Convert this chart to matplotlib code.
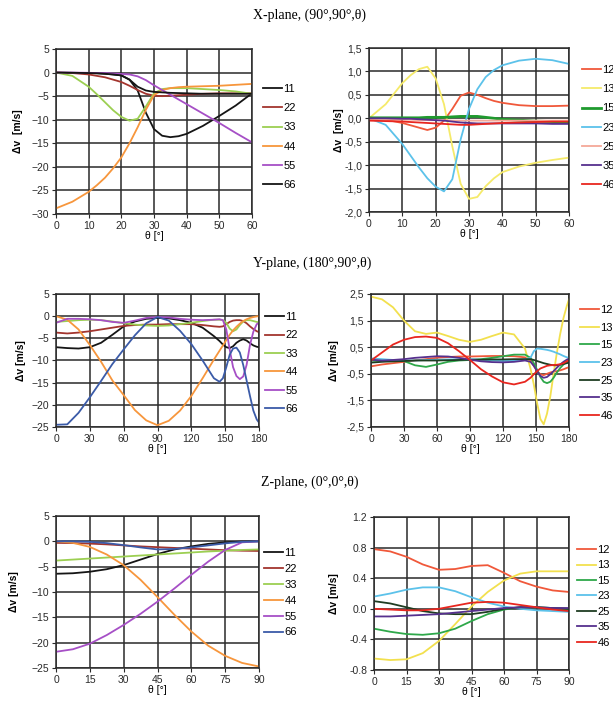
import numpy as np
import matplotlib
matplotlib.use('Agg')
import matplotlib.pyplot as plt

plt.rcParams['font.family'] = ['Liberation Sans', 'DejaVu Sans']

# ---------------- X-plane (90°,90°,θ) ----------------
th_x = [0, 5, 10, 12.5, 15, 17.5, 20, 22.5, 25, 27.5, 30, 32.5, 35, 37.5, 40, 45, 50, 55, 60]
x_11 = [0, -0.05, -0.1, -0.15, -0.25, -0.4, -0.6, -1.5, -3.8, -8.5, -12.0, -13.4, -13.7, -13.5, -13.0, -11.3, -9.2, -7.0, -4.4]
x_22 = [0, -0.1, -0.4, -0.7, -1.0, -1.5, -2.0, -2.8, -3.7, -4.5, -4.9, -5.0, -4.9, -4.8, -4.7, -4.5, -4.4, -4.4, -4.4]
x_33 = [0, -0.7, -3.0, -4.6, -6.3, -8.0, -9.4, -10.2, -9.8, -7.2, -4.4, -3.5, -3.3, -3.3, -3.3, -3.5, -3.7, -4.0, -4.5]
x_44 = [-28.8, -27.4, -25.3, -23.9, -22.3, -20.3, -18.0, -15.0, -11.6, -7.9, -4.8, -3.7, -3.3, -3.1, -3.0, -2.9, -2.8, -2.6, -2.4]
x_55 = [0, 0, -0.05, -0.1, -0.1, -0.2, -0.3, -0.4, -0.8, -1.6, -2.7, -3.7, -4.7, -5.7, -6.7, -8.7, -10.7, -12.8, -14.8]
x_66 = [0, -0.05, -0.1, -0.15, -0.25, -0.4, -0.6, -1.5, -3.0, -3.8, -4.1, -4.2, -4.3, -4.35, -4.4, -4.5, -4.5, -4.5, -4.5]

x_12 = [0, -0.03, -0.1, -0.15, -0.2, -0.25, -0.2, -0.05, 0.2, 0.48, 0.55, 0.5, 0.43, 0.37, 0.33, 0.28, 0.26, 0.26, 0.27]
x_13 = [0, 0.3, 0.75, 0.92, 1.05, 1.1, 0.85, 0.3, -0.6, -1.4, -1.72, -1.68, -1.45, -1.28, -1.15, -1.03, -0.95, -0.89, -0.84]
x_15 = [0.01, 0.01, 0.01, 0.01, 0.01, 0.02, 0.02, 0.02, 0.03, 0.04, 0.04, 0.04, 0.02, 0.0, -0.02, -0.04, -0.06, -0.07, -0.08]
x_23 = [0, -0.14, -0.55, -0.8, -1.05, -1.28, -1.46, -1.56, -1.3, -0.45, 0.2, 0.62, 0.88, 1.03, 1.13, 1.23, 1.27, 1.24, 1.16]
x_25 = [-0.03, -0.03, -0.03, -0.03, -0.04, -0.04, -0.04, -0.04, -0.05, -0.05, -0.05, -0.05, -0.05, -0.05, -0.05, -0.05, -0.05, -0.05, -0.05]
x_35 = [0, 0, -0.01, -0.01, -0.02, -0.03, -0.04, -0.05, -0.07, -0.09, -0.1, -0.11, -0.11, -0.11, -0.11, -0.11, -0.11, -0.12, -0.12]
x_46 = [-0.05, -0.06, -0.07, -0.08, -0.09, -0.1, -0.11, -0.12, -0.13, -0.14, -0.14, -0.13, -0.12, -0.11, -0.1, -0.09, -0.08, -0.07, -0.07]

# ---------------- Y-plane (180°,90°,θ) ----------------
th_y = [0, 10, 20, 30, 40, 50, 60, 70, 80, 90, 100, 110, 120, 130, 140, 145, 148, 151, 154, 157, 160, 163, 166, 169, 172, 175, 178, 180]
y_11 = [-7.0, -7.2, -7.3, -7.0, -6.0, -4.2, -2.3, -1.2, -0.6, -0.4, -0.5, -0.9, -1.5, -2.6, -4.5, -5.6, -6.4, -7.0, -7.2, -6.8, -6.0, -5.5, -5.2, -5.5, -6.1, -6.6, -6.9, -7.0]
y_22 = [-3.7, -3.9, -3.7, -3.4, -3.0, -2.6, -2.2, -2.0, -1.9, -1.9, -1.8, -1.8, -1.8, -2.0, -2.3, -2.4, -2.3, -1.8, -1.3, -1.0, -0.9, -0.9, -1.1, -1.6, -2.3, -2.9, -3.4, -3.6]
y_33 = [-1.3, -1.1, -0.9, -0.8, -0.9, -1.2, -1.6, -1.9, -2.1, -2.2, -2.1, -1.8, -1.5, -1.1, -0.8, -0.8, -0.9, -1.5, -2.8, -3.4, -3.0, -2.0, -1.2, -0.9, -0.9, -1.1, -1.3, -1.4]
y_44 = [0, -0.8, -3.0, -6.5, -10.3, -14.5, -17.8, -21.2, -23.5, -24.6, -23.6, -21.3, -18.0, -14.0, -9.8, -7.8, -6.6, -5.4, -4.2, -3.2, -2.4, -1.7, -1.1, -0.7, -0.4, -0.2, -0.05, 0]
y_55 = [-1.5, -0.6, -0.6, -0.7, -0.9, -1.3, -1.5, -1.0, -0.4, -0.2, -0.3, -0.6, -0.8, -0.9, -0.8, -0.7, -0.9, -3.0, -7.5, -11.5, -13.5, -14.2, -13.6, -11.0, -6.5, -3.5, -1.8, -1.5]
y_66 = [-24.5, -24.4, -21.8, -18.3, -14.6, -10.8, -7.5, -4.3, -1.6, -0.2, -1.0, -3.3, -6.3, -10.0, -14.0, -14.8, -14.0, -11.5, -8.7, -7.3, -7.1, -8.2, -11.0, -14.5, -18.0, -21.3, -23.3, -24.0]

y_12 = [-0.22, -0.15, -0.1, -0.05, 0.0, 0.05, 0.1, 0.13, 0.15, 0.15, 0.16, 0.17, 0.17, 0.16, 0.12, 0.0, -0.2, -0.4, -0.52, -0.55, -0.5, -0.45, -0.42, -0.4, -0.37, -0.33, -0.28, -0.25]
y_13 = [2.4, 2.3, 2.0, 1.5, 1.1, 1.0, 1.05, 0.92, 0.78, 0.7, 0.78, 0.92, 1.05, 0.98, 0.45, -0.3, -0.9, -1.6, -2.2, -2.4, -2.0, -1.35, -0.5, 0.3, 1.0, 1.6, 2.05, 2.3]
y_15 = [0.0, -0.02, -0.03, -0.02, -0.18, -0.24, -0.15, -0.05, 0.0, 0.02, 0.05, 0.1, 0.16, 0.22, 0.22, 0.1, -0.1, -0.35, -0.62, -0.8, -0.85, -0.8, -0.65, -0.45, -0.28, -0.15, -0.05, 0.0]
y_23 = [0.08, 0.05, 0.02, 0.0, 0.0, 0.02, 0.03, 0.04, 0.04, 0.05, 0.03, 0.0, -0.02, 0.0, 0.05, 0.1, 0.35, 0.45, 0.44, 0.42, 0.4, 0.37, 0.33, 0.28, 0.23, 0.17, 0.12, 0.1]
y_25 = [-0.08, -0.05, -0.03, -0.02, 0.0, 0.0, 0.0, 0.01, 0.02, 0.03, 0.03, 0.04, 0.04, 0.05, 0.05, 0.05, 0.02, -0.02, -0.06, -0.1, -0.13, -0.16, -0.18, -0.18, -0.16, -0.13, -0.1, -0.08]
y_35 = [0.03, 0.0, 0.02, 0.05, 0.1, 0.13, 0.16, 0.15, 0.1, 0.03, -0.03, -0.06, -0.07, -0.05, 0.0, -0.05, -0.2, -0.4, -0.58, -0.65, -0.62, -0.52, -0.4, -0.27, -0.15, -0.05, 0.03, 0.07]
y_46 = [0.0, 0.3, 0.6, 0.78, 0.88, 0.9, 0.85, 0.65, 0.35, 0.02, -0.33, -0.6, -0.82, -0.9, -0.8, -0.65, -0.52, -0.4, -0.3, -0.25, -0.2, -0.18, -0.17, -0.16, -0.14, -0.1, -0.03, 0.0]

# ---------------- Z-plane (0°,0°,θ) ----------------
th_z = [0, 7.5, 15, 22.5, 30, 37.5, 45, 52.5, 60, 67.5, 75, 82.5, 90]
z_11 = [-6.4, -6.3, -6.0, -5.5, -4.7, -3.6, -2.5, -1.6, -1.0, -0.5, -0.2, -0.05, 0.0]
z_22 = [-0.3, -0.35, -0.45, -0.6, -0.8, -1.0, -1.15, -1.3, -1.45, -1.6, -1.75, -1.85, -1.9]
z_33 = [-3.8, -3.6, -3.4, -3.2, -3.0, -2.8, -2.6, -2.4, -2.2, -2.0, -1.85, -1.7, -1.6]
z_44 = [0.0, -0.3, -1.1, -2.6, -4.7, -7.6, -11.0, -14.5, -17.8, -20.6, -22.6, -24.0, -24.7]
z_55 = [-21.8, -21.3, -20.2, -18.5, -16.5, -14.3, -11.9, -9.3, -6.6, -4.0, -1.7, -0.2, 0.0]
z_66 = [0.0, 0.0, -0.1, -0.35, -0.75, -1.2, -1.6, -1.5, -1.2, -0.8, -0.4, -0.1, 0.0]

z_12 = [0.78, 0.75, 0.68, 0.58, 0.51, 0.52, 0.56, 0.57, 0.47, 0.36, 0.29, 0.24, 0.22]
z_13 = [-0.65, -0.67, -0.66, -0.58, -0.42, -0.2, 0.03, 0.22, 0.37, 0.46, 0.49, 0.49, 0.49]
z_15 = [-0.26, -0.3, -0.33, -0.34, -0.32, -0.26, -0.16, -0.07, -0.01, 0.02, 0.02, 0.01, 0.0]
z_23 = [0.16, 0.2, 0.25, 0.28, 0.28, 0.23, 0.15, 0.08, 0.03, 0.0, -0.02, -0.03, -0.04]
z_25 = [0.1, 0.07, 0.02, -0.03, -0.06, -0.07, -0.07, -0.04, 0.0, 0.02, 0.02, 0.01, 0.0]
z_35 = [-0.1, -0.1, -0.09, -0.08, -0.07, -0.05, -0.03, -0.01, 0.01, 0.02, 0.02, 0.01, 0.01]
z_46 = [0.0, -0.01, -0.02, -0.02, 0.0, 0.04, 0.08, 0.09, 0.08, 0.05, 0.02, -0.01, -0.03]

lab_diag = ['11', '22', '33', '44', '55', '66']
lab_off = ['12', '13', '15', '23', '25', '35', '46']

xr_ticks = ['1,5', '1,0', '0,5', '0,0', '-0,5', '-1,0', '-1,5', '-2,0']
yr_ticks = ['2,5', '1,5', '0,5', '-0,5', '-1,5', '-2,5']
zr_ticks = ['1.2', '0.8', '0.4', '0.0', '-0.4', '-0.8']

col_diag = ['#151515', '#a3352e', '#9ccf52', '#f7963c', '#a64fc6', '#3b5ba8']
col_off = ['#f0583a', '#f2e04e', '#2ea84a', '#5cc2ea', '#1f3d22', '#56308e', '#e8261f']

W, H = 613, 709
fig = plt.figure(figsize=(W / 100, H / 100), dpi=100)


def box(l, r, t, b):
    return [l / W, 1 - b / H, (r - l) / W, (b - t) / H]


def style(ax, xt, yt, ylab, ylx, ytl=None):
    ax.set_xlim(xt[0], xt[-1])
    ax.set_ylim(min(yt), max(yt))
    ax.set_xticks(xt)
    ax.set_yticks(yt)
    if ytl is not None:
        ax.set_yticklabels(ytl)
    ax.grid(True, color='#2a2a2a', lw=1.1)
    ax.set_axisbelow(True)
    for s in ax.spines.values():
        s.set_color('#2a2a2a')
        s.set_linewidth(1.1)
    ax.tick_params(labelsize=7.5, length=3, width=0.8, colors='#2a2a2a', pad=2)
    ax.set_xlabel('θ [°]', fontsize=7.5, labelpad=0)
    ax.set_ylabel(ylab, fontsize=7.5, fontweight='bold')
    ax.yaxis.set_label_coords(ylx, 0.5)


def leg(ax, x, y, sp):
    ax.legend(loc='upper left', bbox_to_anchor=(x / W, 1 - y / H), bbox_transform=fig.transFigure,
              frameon=False, fontsize=8, handlelength=1.7, handletextpad=0.15,
              labelspacing=sp, borderpad=0, borderaxespad=0)


lw = 1.3
serif = ['Liberation Serif', 'DejaVu Serif']

# X-plane
ax = fig.add_axes(box(56, 252, 49, 214))
xs = [x_11, x_22, x_33, x_44, x_55, x_66]
cs = col_diag[:5] + ['#151515']
for v, c, l in zip(xs, cs, lab_diag):
    ax.plot(th_x, v, color=c, lw=lw, label=l)
style(ax, [0, 10, 20, 30, 40, 50, 60], [5, 0, -5, -10, -15, -20, -25, -30], 'Δv  [m/s]', -0.17)
leg(ax, 263, 84, 0.83)

ax = fig.add_axes(box(369, 569, 48, 212))
xs = [x_12, x_13, x_15, x_23, x_25, x_35, x_46]
cs = ['#f0583a', '#f5ea6a', '#1f9a2e', '#5cc2ea', '#f5a898', '#56308e', '#e8261f']
for v, c, l in zip(xs, cs, lab_off):
    ax.plot(th_x, v, color=c, lw=lw if l != '15' else 2.0, label=l)
style(ax, [0, 10, 20, 30, 40, 50, 60], [1.5, 1.0, 0.5, 0.0, -0.5, -1.0, -1.5, -2.0], 'Δv  [m/s]', -0.125, xr_ticks)
leg(ax, 582, 65, 0.83)

fig.text(0.505, 1 - 15 / H, 'X-plane, (90°,90°,θ)', ha='center', va='center', fontsize=10, family=serif)

# Y-plane
ax = fig.add_axes(box(56, 259, 294, 427))
ys = [y_11, y_22, y_33, y_44, y_55, y_66]
for v, c, l in zip(ys, col_diag, lab_diag):
    ax.plot(th_y, v, color=c, lw=lw, label=l)
style(ax, [0, 30, 60, 90, 120, 150, 180], [5, 0, -5, -10, -15, -20, -25], 'Δv [m/s]', -0.15)
leg(ax, 265, 312, 0.76)

ax = fig.add_axes(box(371, 569, 294, 427))
ys = [y_12, y_13, y_15, y_23, y_25, y_35, y_46]
for v, c, l in zip(ys, col_off, lab_off):
    ax.plot(th_y, v, color=c, lw=lw, label=l)
style(ax, [0, 30, 60, 90, 120, 150, 180], [2.5, 1.5, 0.5, -0.5, -1.5, -2.5], 'Δv [m/s]', -0.16, yr_ticks)
leg(ax, 580, 305, 0.69)

fig.text(0.51, 1 - 263 / H, 'Y-plane, (180°,90°,θ)', ha='center', va='center', fontsize=10, family=serif)

# Z-plane
ax = fig.add_axes(box(56, 259, 516, 668))
zs = [z_11, z_22, z_33, z_44, z_55, z_66]
for v, c, l in zip(zs, col_diag, lab_diag):
    ax.plot(th_z, v, color=c, lw=lw, label=l)
style(ax, [0, 15, 30, 45, 60, 75, 90], [5, 0, -5, -10, -15, -20, -25], 'Δv [m/s]', -0.18)
leg(ax, 264, 548, 0.53)

ax = fig.add_axes(box(374, 569, 517, 670))
zs = [z_12, z_13, z_15, z_23, z_25, z_35, z_46]
for v, c, l in zip(zs, col_off, lab_off):
    ax.plot(th_z, v, color=c, lw=lw, label=l)
style(ax, [0, 15, 30, 45, 60, 75, 90], [1.2, 0.8, 0.4, 0.0, -0.4, -0.8], 'Δv [m/s]', -0.18, zr_ticks)
leg(ax, 577, 545, 0.49)

fig.text(0.505, 1 - 482 / H, 'Z-plane, (0°,0°,θ)', ha='center', va='center', fontsize=10, family=serif)

fig.savefig('out.png', dpi=100, facecolor='white')
